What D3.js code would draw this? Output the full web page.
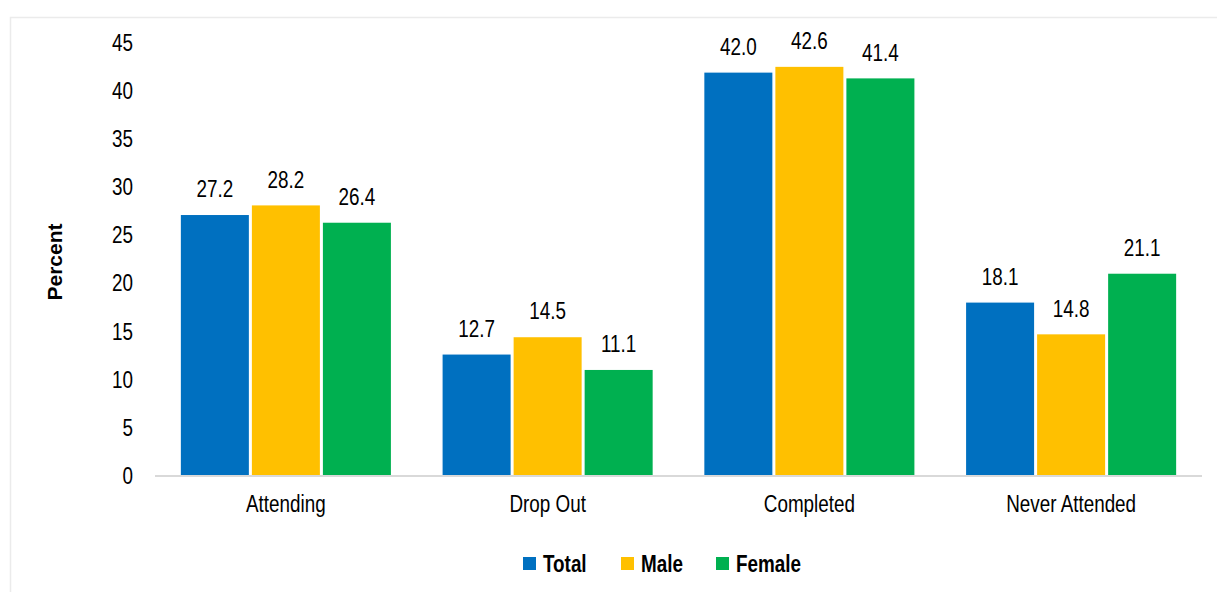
<!DOCTYPE html>
<html>
<head>
<meta charset="utf-8">
<script src="https://cdn.jsdelivr.net/npm/d3@7"></script>
<style>
  html, body { margin: 0; padding: 0; background: #fff; }
  svg { display: block; font-family: "Liberation Sans", Arial, sans-serif; }
  .nc { transform-box: fill-box; transform-origin: center; transform: scaleX(0.82); }
  .nr { transform-box: fill-box; transform-origin: right center; transform: scaleX(0.82); }
  .nl { transform-box: fill-box; transform-origin: left center; transform: scaleX(0.82); }
</style>
</head>
<body>
<svg id="chart" width="1217" height="592"></svg>
<script>
const categories = ["Attending", "Drop Out", "Completed", "Never Attended"];
const seriesNames = ["Total", "Male", "Female"];
const totalValues = [27.2, 12.7, 42.0, 18.1];
const maleValues = [28.2, 14.5, 42.6, 14.8];
const femaleValues = [26.4, 11.1, 41.4, 21.1];
const yTicks = [0, 5, 10, 15, 20, 25, 30, 35, 40, 45];
const colors = ["#0070C0", "#FFC000", "#00B050"];

const seriesValues = [totalValues, maleValues, femaleValues];
const FS = 23;

const svg = d3.select("#chart");

// outer light frame
svg.append("rect")
  .attr("x", 10.5).attr("y", 17.5)
  .attr("width", 1230).attr("height", 600)
  .attr("fill", "#fff").attr("stroke", "#ebebeb").attr("stroke-width", 1.5);

const x0 = d3.scaleBand().domain(categories).range([155, 1202])
  .paddingInner(0.186).paddingOuter(0.093);
const x1 = d3.scaleBand().domain(seriesNames).range([0, x0.bandwidth()]);
const y = d3.scaleLinear().domain([0, 45]).range([476, 43]);

// y tick labels (no axis line)
const yAxis = d3.axisLeft(y).tickValues(yTicks).tickSize(0).tickPadding(0);
const yg = svg.append("g").attr("transform", "translate(133,0)").call(yAxis);
yg.select(".domain").remove();
yg.selectAll("text").attr("font-size", FS).attr("fill", "#000")
  .attr("font-family", "Liberation Sans, Arial, sans-serif")
  .attr("class", "nr");

// bars
const groups = svg.append("g").selectAll("g")
  .data(categories).join("g")
  .attr("transform", d => `translate(${x0(d)},0)`);

groups.each(function(cat, ci) {
  const g = d3.select(this);
  seriesNames.forEach((s, si) => {
    const v = seriesValues[si][ci];
    g.append("rect")
      .attr("x", x1(s) + 0.75)
      .attr("y", y(v))
      .attr("width", x1.bandwidth() - 1.5)
      .attr("height", y(0) - y(v))
      .attr("fill", colors[si])
      .attr("stroke", "#ffffff").attr("stroke-width", 1.5);
    g.append("text")
      .attr("class", "nc")
      .attr("x", x1(s) + x1.bandwidth() / 2)
      .attr("y", y(v) - 17)
      .attr("text-anchor", "middle")
      .attr("font-size", FS).attr("fill", "#000")
      .text(v.toFixed(1));
  });
});

// x axis
const xAxis = d3.axisBottom(x0).tickSize(0).tickPadding(20);
const xg = svg.append("g").attr("transform", "translate(0,476)").call(xAxis);
xg.select(".domain").attr("stroke", "#d9d9d9").attr("stroke-width", 2)
  .attr("d", "M155,0H1202");
xg.selectAll("text").attr("font-size", FS).attr("fill", "#000")
  .attr("font-family", "Liberation Sans, Arial, sans-serif")
  .attr("class", "nc");

// y-axis title
svg.append("text")
  .attr("transform", "translate(62,262) rotate(-90)")
  .attr("text-anchor", "middle")
  .attr("font-size", 21).attr("font-weight", "bold").attr("fill", "#000")
  .text("Percent");

// legend
const legendX = [523, 621, 716];
const legend = svg.append("g");
seriesNames.forEach((s, i) => {
  legend.append("rect")
    .attr("x", legendX[i]).attr("y", 557)
    .attr("width", 13).attr("height", 13)
    .attr("fill", colors[i]);
  legend.append("text")
    .attr("class", "nl")
    .attr("x", legendX[i] + 20).attr("y", 572)
    .attr("font-size", FS).attr("font-weight", "bold").attr("fill", "#000")
    .text(s);
});
</script>
</body>
</html>
